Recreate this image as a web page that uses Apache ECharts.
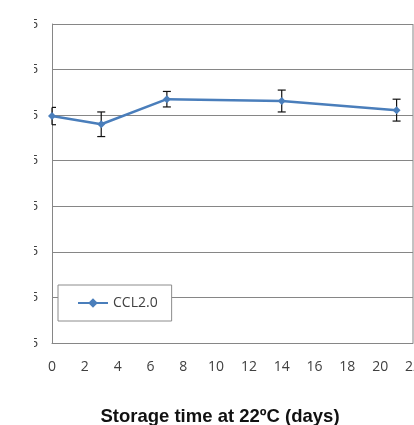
<!DOCTYPE html>
<html>
<head>
<meta charset="utf-8">
<script src="https://cdn.jsdelivr.net/npm/echarts@6/dist/echarts.min.js"></script>
<style>
  html, body { margin: 0; padding: 0; background: #fff; }
  #chart { width: 414px; height: 425px; }
</style>
</head>
<body>
<div id="chart"></div>
<script>
const days = [0, 3, 7, 14, 21];
const ccl = [54.8, 53.0, 58.5, 58.1, 56.1];
const cclErr = [1.9, 2.7, 1.7, 2.4, 2.4];
const seriesName = "CCL2.0";
const xTitle = "Storage time at 22ºC (days)";

var chartDom = document.getElementById("chart");
var myChart = echarts.init(chartDom);

const points = days.map((d, i) => [d, ccl[i]]);
const bars = days.map((d, i) => [d, ccl[i] - cclErr[i], ccl[i] + cclErr[i]]);

const opt = {
  animation: false,
  textStyle: { fontFamily: "Liberation Sans" },
  grid: { left: 52, right: 1, top: 24, bottom: 82, outerBoundsMode: "none", containLabel: false },
  legend: {
    left: 58,
    top: 285,
    padding: [11, 14, 11, 19],
    itemWidth: 30,
    itemHeight: 12,
    borderColor: "#8c8c8c",
    borderWidth: 1,
    backgroundColor: "#fff",
    textStyle: { fontSize: 14, color: "#404040", fontFamily: "Open Sans" },
    data: [seriesName],
  },
  xAxis: {
    type: "value",
    min: 0,
    max: 22,
    interval: 2,
    name: xTitle,
    nameLocation: "middle",
    nameGap: 64,
    nameTextStyle: { fontSize: 18.5, fontWeight: "bold", color: "#111", padding: [0, 25, 0, 0] },
    axisLine: { lineStyle: { color: "#868686" } },
    axisTick: { show: false },
    axisLabel: { color: "#404040", fontSize: 14, margin: 17, fontFamily: "Open Sans" },
    splitLine: { show: false },
  },
  yAxis: {
    type: "value",
    min: 5,
    max: 75,
    interval: 10,
    axisLine: { show: true, lineStyle: { color: "#868686" } },
    axisTick: { show: false },
    axisLabel: { color: "#404040", fontSize: 13, margin: 14 },
    splitLine: { lineStyle: { color: "#868686", width: 1 } },
  },
  graphic: [
    // the left part of the y labels is hidden in the reference
    { type: "rect", left: 0, top: 0, z: 100, shape: { width: 34, height: 350 }, style: { fill: "#fff" } },
    // right border of the plot
    { type: "line", z: 50, shape: { x1: 413, y1: 24, x2: 413, y2: 343 }, style: { stroke: "#868686", lineWidth: 1 } },
  ],
  series: [
    {
      name: seriesName,
      type: "line",
      data: points,
      symbol: "diamond",
      symbolSize: 8,
      lineStyle: { color: "#4a7ebb", width: 2.5 },
      itemStyle: { color: "#4a7ebb" },
      z: 3,
    },
    {
      type: "custom",
      data: bars,
      z: 2,
      renderItem: function (params, api) {
        const x = api.value(0);
        const lo = api.coord([x, api.value(1)]);
        const hi = api.coord([x, api.value(2)]);
        const w = 4;
        const left = Math.max(lo[0] - w, params.coordSys.x);
        const style = { stroke: "#111", lineWidth: 1.2 };
        return {
          type: "group",
          children: [
            { type: "line", shape: { x1: lo[0], y1: lo[1], x2: hi[0], y2: hi[1] }, style: style },
            { type: "line", shape: { x1: left, y1: lo[1], x2: lo[0] + w, y2: lo[1] }, style: style },
            { type: "line", shape: { x1: left, y1: hi[1], x2: hi[0] + w, y2: hi[1] }, style: style },
          ],
        };
      },
    },
  ],
};
myChart.setOption(opt);
</script>
</body>
</html>
